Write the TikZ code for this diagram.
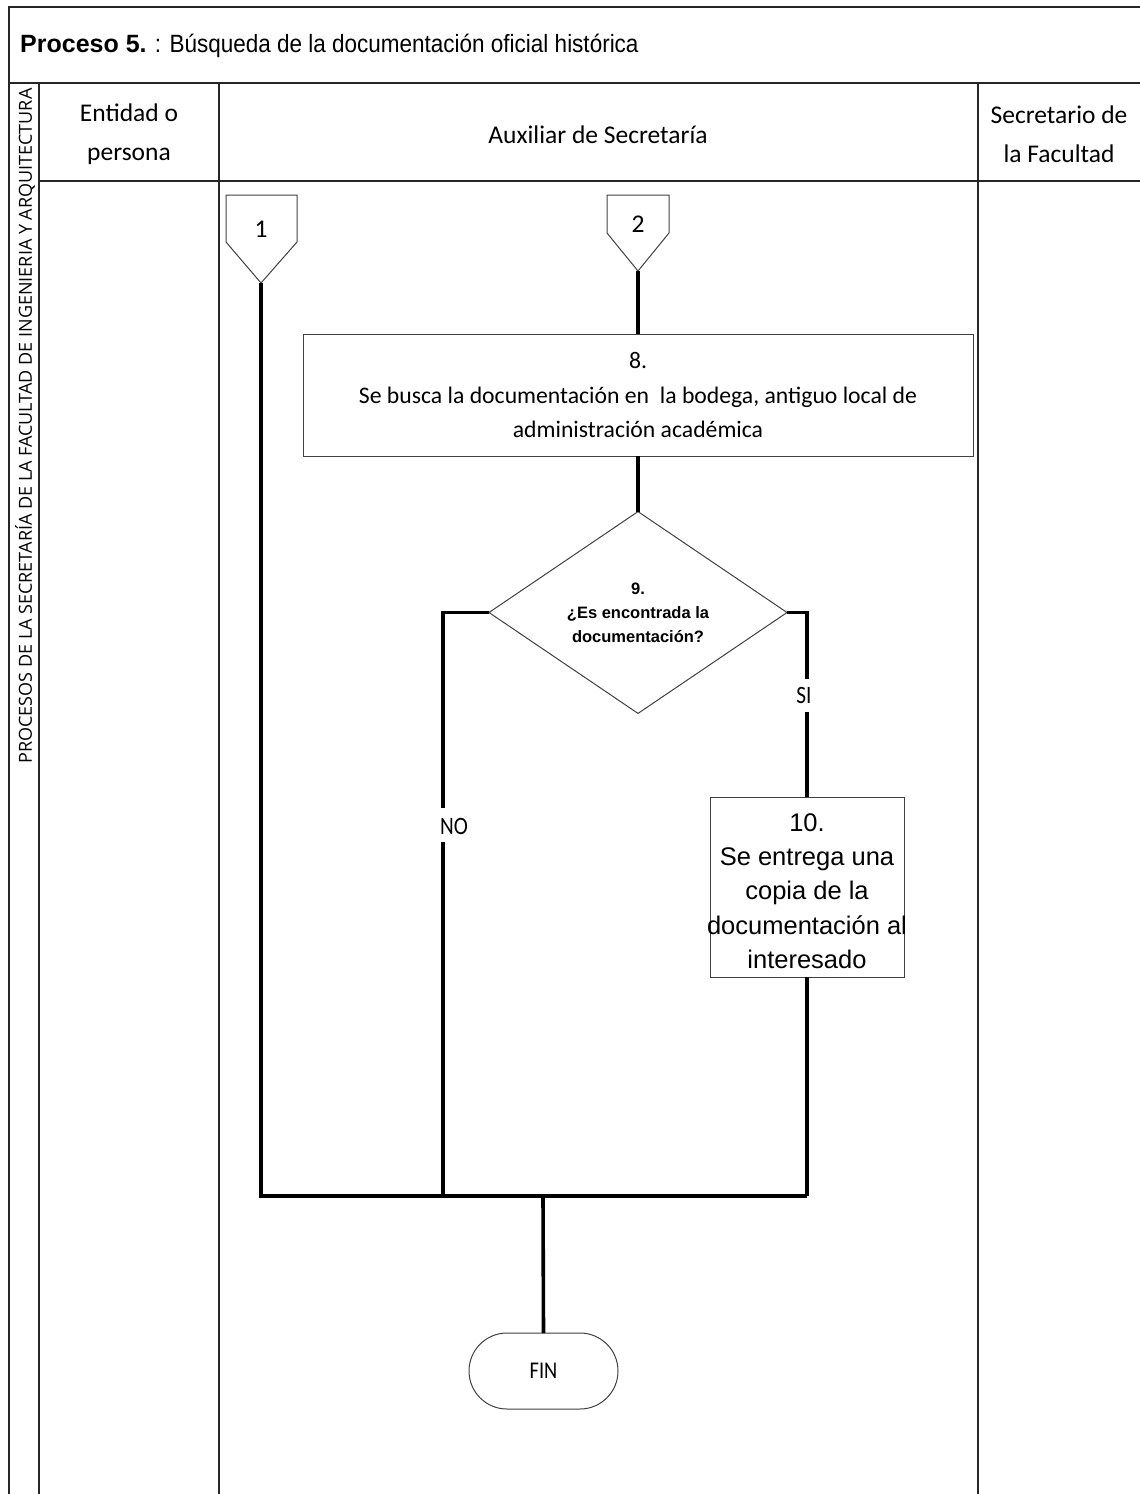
\documentclass[tikz,border=0pt]{standalone}
\usepackage{fontspec}
\setmainfont{Carlito}
\newfontfamily\arialfont{Liberation Sans}
\newfontfamily\titlefont[FakeStretch=0.9]{Liberation Sans}
\newfontfamily\labelfont[FakeStretch=0.85]{Carlito}
\newfontfamily\sidefont{Open Sans}
\usetikzlibrary{shapes.geometric,shapes.misc}

\tikzset{
  tbl/.style={line width=2pt, black!85},
  flow/.style={line width=3.6pt, black},
  shapeline/.style={draw=black!75, line width=1pt},
  stepbox/.style={shapeline, rectangle, align=center, inner sep=0pt, outer sep=0pt},
  decision/.style={shapeline, diamond, align=center, inner sep=0pt, outer sep=0pt,
    minimum width=298pt, minimum height=190pt},
  terminal/.style={shapeline, rounded rectangle, inner sep=0pt, outer sep=0pt,
    minimum width=149pt, minimum height=76pt},
  label/.style={inner sep=0pt, font=\fontsize{25.5}{30}\selectfont},
  branch/.style={inner sep=0pt, font=\labelfont\fontsize{25}{30}\selectfont},
}

\begin{document}
\begin{tikzpicture}[x=1pt, y=-1pt]
\useasboundingbox (0,0) rectangle (1140,1494);

% swimlane table
\draw[tbl] (9,1495) -- (9,7) -- (1141,7);
\draw[tbl] (9,83) -- (1141,83);
\draw[tbl] (39,83) -- (39,1495);
\draw[tbl] (39,181) -- (1141,181);
\draw[tbl] (219,83) -- (219,1495);
\draw[tbl] (978,83) -- (978,1495);

% title
\node[anchor=west, inner sep=0pt, font=\titlefont\fontsize{25}{30}\selectfont] (title) at (20,46)
  {{\arialfont\bfseries Proceso 5.} : Búsqueda de la documentación oficial histórica};

% side label
\node[rotate=90, inner sep=0pt, font=\sidefont\fontsize{18}{22}\selectfont] (side) at (25,426)
  {PROCESOS DE LA SECRETARÍA DE LA FACULTAD DE INGENIERIA Y ARQUITECTURA};

% lane headers
\node[label, align=center, font=\fontsize{25.5}{39}\selectfont] (h1) at (129,134) {Entidad o\\persona};
\node[label] (h2) at (598,135) {Auxiliar de Secretaría};
\node[label, align=center, font=\fontsize{25.5}{39}\selectfont] (h3) at (1059,134) {Secretario de\\la Facultad};

% off-page connectors
\draw[shapeline] (226,195) -- (297,195) -- (297,242) -- (261,283) -- (226,242) -- cycle;
\node[label] (c1) at (261,229) {1};
\coordinate (c1tip) at (261,283);
\draw[shapeline] (607,195) -- (669,195) -- (669,233) -- (638,271) -- (607,233) -- cycle;
\node[label] (c2) at (638,224) {2};
\coordinate (c2tip) at (638,271);

% steps
\node[stepbox, minimum width=670pt, minimum height=122pt, font=\fontsize{23.7}{34.5}\selectfont] (b8) at (638,395)
  {8.\\Se busca la documentación en\ \ la bodega, antiguo local de\\administración académica};
\node[decision, font=\arialfont\bfseries\fontsize{16.5}{24}\selectfont] (d9) at (638,612.5)
  {9.\\¿Es encontrada la\\documentación?};
\node[stepbox, minimum width=194pt, minimum height=180pt] (b10) at (807,887) {};
\node[align=center, inner sep=0pt, font=\arialfont\fontsize{25.5}{34.3}\selectfont] (t10) at (807,891)
  {10.\\Se entrega una\\copia de la\\documentación al\\interesado};
\node[terminal, font=\labelfont\fontsize{24}{30}\selectfont] (fin) at (543.5,1371) {FIN};

% join points and label gaps
\coordinate (jl) at (261,1196);
\coordinate (jr) at (807,1196);
\coordinate (jm) at (543,1196);
\coordinate (noturn) at (443,612.5);
\coordinate (notop) at (443,808);
\coordinate (nobot) at (443,842);
\coordinate (jn) at (443,1196);
\coordinate (siturn) at (807,612.5);
\coordinate (sitop) at (807,679);
\coordinate (sibot) at (807,712);

% connectors
\draw[flow] (c1tip) -- (jl) -- (jr);
\draw[flow] (c2tip) -- (b8.north);
\draw[flow] (b8.south) -- (d9.north);
\draw[flow] (d9.west) -- (noturn) -- (notop);
\draw[flow] (nobot) -- (jn);
\draw[flow] (d9.east) -- (siturn) -- (sitop);
\draw[flow] (sibot) -- (b10.north);
\draw[flow] (b10.south) -- (jr);
\draw[flow] (jm) -- (fin.north);

% branch labels
\node[branch] (no) at (454,826) {NO};
\node[branch] (si) at (804,695) {SI};
\end{tikzpicture}
\end{document}
